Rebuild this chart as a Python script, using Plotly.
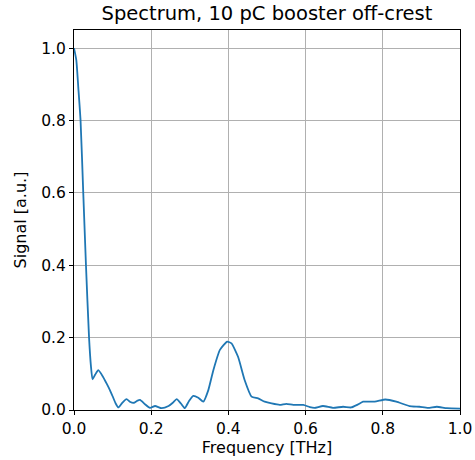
import plotly.graph_objects as go

# Spectrum
freq_thz = [
    0.0, 0.006, 0.011, 0.017, 0.024, 0.031, 0.039, 0.044, 0.048, 0.055,
    0.063, 0.075, 0.085, 0.093, 0.100, 0.108, 0.115, 0.125, 0.136, 0.146,
    0.155, 0.163, 0.171, 0.184, 0.197, 0.210, 0.227, 0.245, 0.256, 0.266,
    0.277, 0.287, 0.298, 0.309, 0.322, 0.335, 0.348, 0.361, 0.378, 0.397,
    0.408, 0.425, 0.442, 0.460, 0.477, 0.494, 0.512, 0.533, 0.550, 0.568,
    0.594, 0.611, 0.623, 0.645, 0.671, 0.697, 0.718, 0.735, 0.749, 0.779,
    0.807, 0.835, 0.869, 0.895, 0.917, 0.940, 0.966, 1.0,
]
signal = [
    1.0, 0.967, 0.893, 0.80, 0.60, 0.40, 0.20, 0.12, 0.085, 0.098,
    0.11, 0.092, 0.072, 0.055, 0.038, 0.018, 0.007, 0.02, 0.03, 0.022,
    0.02, 0.025, 0.028, 0.016, 0.006, 0.011, 0.005, 0.011, 0.02, 0.03,
    0.018, 0.005, 0.025, 0.039, 0.034, 0.023, 0.055, 0.11, 0.166, 0.189,
    0.184, 0.147, 0.083, 0.037, 0.032, 0.023, 0.018, 0.014, 0.017, 0.014,
    0.014, 0.008, 0.006, 0.011, 0.006, 0.009, 0.007, 0.015, 0.023, 0.023,
    0.029, 0.023, 0.011, 0.009, 0.006, 0.009, 0.005, 0.004,
]

x_ticks = [0.0, 0.2, 0.4, 0.6, 0.8, 1.0]
y_ticks = [0.0, 0.2, 0.4, 0.6, 0.8, 1.0]

FONT = "DejaVu Sans, Arial, sans-serif"
LINE_COLOR = "#1f77b4"

fig = go.Figure(
    go.Scatter(
        x=freq_thz,
        y=signal,
        mode="lines",
        line=dict(color=LINE_COLOR, width=1.8, shape="spline", smoothing=0.5),
        hoverinfo="skip",
    )
)

axis_common = dict(
    showgrid=True,
    gridcolor="#b0b0b0",
    gridwidth=0.8,
    showline=True,
    linecolor="black",
    linewidth=1,
    mirror=True,
    ticks="outside",
    ticklen=4,
    tickcolor="black",
    tickformat=".1f",
    zeroline=False,
    automargin=False,
    tickfont=dict(size=15.5, color="black", family=FONT),
    title_font=dict(size=16, color="black", family=FONT),
)

fig.update_xaxes(range=[0, 1.0], tickvals=x_ticks, title_text="Frequency [THz]",
                 title_standoff=2, **axis_common)
fig.update_yaxes(range=[0, 1.05], tickvals=y_ticks, title_text="Signal [a.u.]",
                 title_standoff=10, **axis_common)

fig.update_layout(
    width=475,
    height=460,
    margin=dict(l=74, r=15, t=30, b=50),
    paper_bgcolor="white",
    plot_bgcolor="white",
    showlegend=False,
    font=dict(family=FONT, color="black"),
    title=dict(
        text="Spectrum, 10 pC booster off-crest",
        x=0.5,
        xref="paper",
        xanchor="center",
        y=1 - 13 / 460,
        yref="container",
        yanchor="middle",
        font=dict(size=19.5, color="black", family=FONT),
    ),
)

# drop the default page margin so the figure sits at the window origin
fig.write_html(
    "out.html",
    config={"displayModeBar": False},
    post_script="document.body.style.margin='0';",
)
